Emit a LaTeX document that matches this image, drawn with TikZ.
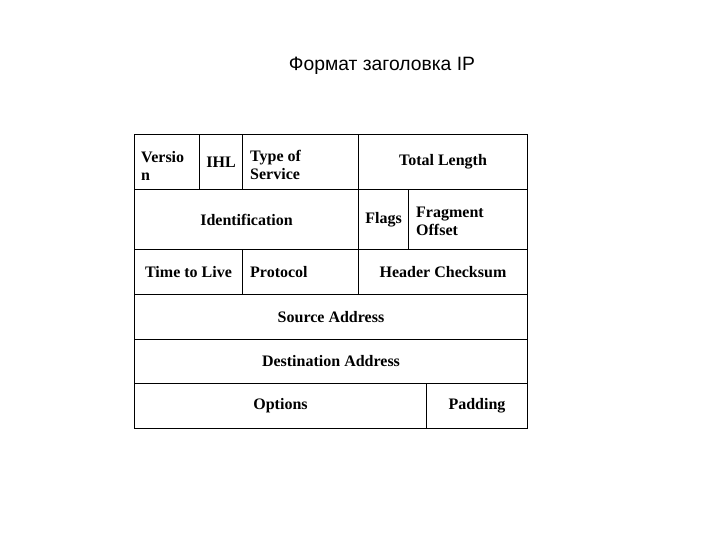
\documentclass[tikz,border=0pt]{standalone}
\usepackage{fontspec}
\setmainfont{Liberation Serif}
\newfontfamily\titlefont{Liberation Sans}
\begin{document}
\begin{tikzpicture}[x=1pt,y=-1pt,
  cell/.style={draw=black,line width=1pt,rectangle,inner sep=0pt,anchor=north west,
    font=\fontsize{16}{18}\selectfont\bfseries},
  lbl/.style={anchor=west,inner sep=0pt,align=left,font=\fontsize{16}{18}\selectfont\bfseries}]
\useasboundingbox[fill=white] (0,0) rectangle (720,540);
\node[anchor=base,inner sep=0pt,font=\titlefont\fontsize{19.3}{22}\selectfont] (title) at (382,71) {Формат заголовка IP};
% row 1
\node[cell,minimum width=65pt,minimum height=55pt] (ver) at (134,134) {};
\node[cell,minimum width=43pt,minimum height=55pt] (ihl) at (199,134) {IHL};
\node[cell,minimum width=116pt,minimum height=55pt] (tos) at (242,134) {};
\node[cell,minimum width=169pt,minimum height=55pt] (tl) at (358,134) {Total Length};
% row 2
\node[cell,minimum width=224pt,minimum height=60pt] (id) at (134,189) {Identification};
\node[cell,minimum width=50pt,minimum height=60pt] (flags) at (358,189) {Flags};
\node[cell,minimum width=119pt,minimum height=60pt] (frag) at (408,189) {};
% row 3
\node[cell,minimum width=108pt,minimum height=45pt] (ttl) at (134,249) {Time to Live};
\node[cell,minimum width=116pt,minimum height=45pt] (proto) at (242,249) {};
\node[cell,minimum width=169pt,minimum height=45pt] (hc) at (358,249) {Header Checksum};
% row 4,5
\node[cell,minimum width=393pt,minimum height=45pt] (src) at (134,294) {Source Address};
\node[cell,minimum width=393pt,minimum height=44pt] (dst) at (134,339) {Destination Address};
% row 6
\node[cell,minimum width=292pt,minimum height=45pt] (opt) at (134,383) {Options};
\node[cell,minimum width=101pt,minimum height=45pt] (pad) at (426,383) {Padding};
% left-aligned texts
\node[lbl] (vert) at ([xshift=7pt,yshift=-3.5pt]ver.west) {Versio\\n};
\node[lbl] (tost) at ([xshift=8pt,yshift=-3pt]tos.west) {Type of\\Service};
\node[lbl] (fragt) at ([xshift=8pt,yshift=-2pt]frag.west) {Fragment\\Offset};
\node[lbl] (protot) at ([xshift=8pt]proto.west) {Protocol};
\end{tikzpicture}
\end{document}
